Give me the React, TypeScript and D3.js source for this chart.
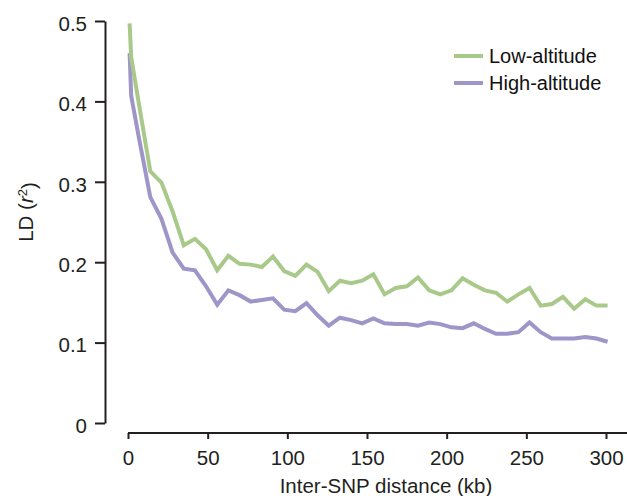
import React, { useRef, useEffect } from 'react';
import * as d3 from 'd3';

// distance bins (kb)
const distance = [1, 2, 7, 14, 21, 28, 35, 42, 49, 56, 63, 70, 77, 84, 91, 98, 105, 112, 119, 126, 133, 140, 147,
  154, 161, 168, 175, 182, 189, 196, 203, 210, 217, 224, 231, 238, 245, 252, 259, 266, 273, 280, 287, 294, 301];

const lowAltitude = [0.497, 0.455, 0.395, 0.313, 0.299, 0.263, 0.221, 0.229, 0.216, 0.19, 0.208, 0.198, 0.197, 0.194,
  0.207, 0.189, 0.183, 0.197, 0.188, 0.164, 0.177, 0.174, 0.177,
  0.185, 0.16, 0.168, 0.17, 0.181, 0.165, 0.16, 0.165, 0.18, 0.172, 0.165, 0.162, 0.151, 0.16, 0.168, 0.146,
  0.148, 0.157, 0.142, 0.154, 0.146, 0.146];

const highAltitude = [0.46, 0.407, 0.353, 0.281, 0.254, 0.212, 0.192, 0.19, 0.17, 0.147, 0.165, 0.159, 0.151, 0.153,
  0.155, 0.141, 0.139, 0.149, 0.134, 0.121, 0.131, 0.128, 0.124,
  0.13, 0.124, 0.123, 0.123, 0.121, 0.125, 0.123, 0.119, 0.118, 0.124, 0.117, 0.111, 0.111, 0.113, 0.125, 0.113,
  0.105, 0.105, 0.105, 0.107, 0.105, 0.101];

const seriesNames = ['Low-altitude', 'High-altitude'];
const seriesColors = ['#a9c98b', '#9e95c8'];
const xTicks = [0, 50, 100, 150, 200, 250, 300];
const yTicks = [0, 0.1, 0.2, 0.3, 0.4, 0.5];

function Chart() {
  const canvas = useRef<SVGSVGElement | null>(null);

  useEffect(() => {
    const W = 627;
    const H = 496;
    const ink = '#231f20';
    const font = '"Liberation Sans", Arial, sans-serif';

    const svg = d3.select(canvas.current);
    svg.selectAll('*').remove();
    svg.attr('width', W).attr('height', H);

    const x = d3.scaleLinear().domain([0, 300]).range([128, 606]);
    const y = d3.scaleLinear().domain([0, 0.5]).range([423, 21]);

    // x axis
    const gx = svg.append('g')
      .attr('transform', 'translate(0,433)')
      .call(d3.axisBottom(x).tickValues(xTicks).tickSize(6).tickPadding(11).tickSizeOuter(0).tickFormat(d3.format('d')));
    gx.select('.domain').attr('d', `M${x(0)},0H${W}`);
    gx.selectAll('line').attr('stroke', ink).attr('stroke-width', 2);
    gx.select('.domain').attr('stroke', ink).attr('stroke-width', 2);
    gx.selectAll('text').attr('fill', ink).style('font-size', '20.5px').style('font-family', font);

    // y axis
    const gy = svg.append('g')
      .attr('transform', 'translate(105,0)')
      .call(d3.axisLeft(y).tickValues(yTicks).tickSize(10).tickPadding(8).tickSizeOuter(0)
        .tickFormat((d) => (d === 0 ? '0' : d3.format('.1f')(d as number))));
    gy.selectAll('line').attr('stroke', ink).attr('stroke-width', 2);
    gy.select('.domain').attr('stroke', ink).attr('stroke-width', 2);
    gy.selectAll('text').attr('fill', ink).attr('dy', '0.45em').style('font-size', '20.5px').style('font-family', font);

    // axis titles
    svg.append('text')
      .attr('x', 386).attr('y', 493)
      .attr('text-anchor', 'middle')
      .attr('fill', ink)
      .style('font-size', '20.5px').style('font-family', font)
      .text('Inter-SNP distance (kb)');

    const yl = svg.append('text')
      .attr('transform', 'translate(32.5,212) rotate(-90)')
      .attr('text-anchor', 'middle')
      .attr('fill', ink)
      .style('font-size', '20.5px').style('font-family', font);
    yl.append('tspan').text('LD (');
    yl.append('tspan').style('font-style', 'italic').text('r');
    yl.append('tspan').attr('dy', '-0.4em').style('font-size', '13px').text('2');
    yl.append('tspan').attr('dy', '0.4em').text(')');

    // lines (high-altitude underneath, low-altitude on top)
    const line = d3.line<number>()
      .x((_, i) => x(distance[i]))
      .y((d) => y(d));

    [1, 0].forEach((k) => {
      const vals = k === 0 ? lowAltitude : highAltitude;
      svg.append('path')
        .datum(vals)
        .attr('d', line)
        .attr('fill', 'none')
        .attr('stroke', seriesColors[k])
        .attr('stroke-width', 4)
        .attr('stroke-linejoin', 'miter');
    });

    // legend
    seriesNames.forEach((name, k) => {
      const ly = 56 + k * 27;
      svg.append('line')
        .attr('x1', 454).attr('x2', 483)
        .attr('y1', ly).attr('y2', ly)
        .attr('stroke', seriesColors[k])
        .attr('stroke-width', 4);
      svg.append('text')
        .attr('x', 489).attr('y', ly + 7)
        .attr('fill', '#111')
        .style('font-size', '20px').style('font-family', font)
        .text(name);
    });
  }, []);

  return <svg ref={canvas} style={{ position: 'absolute', left: 0, top: 0, background: '#fff' }} />;
}

export default function App() {
  return <Chart />;
}
